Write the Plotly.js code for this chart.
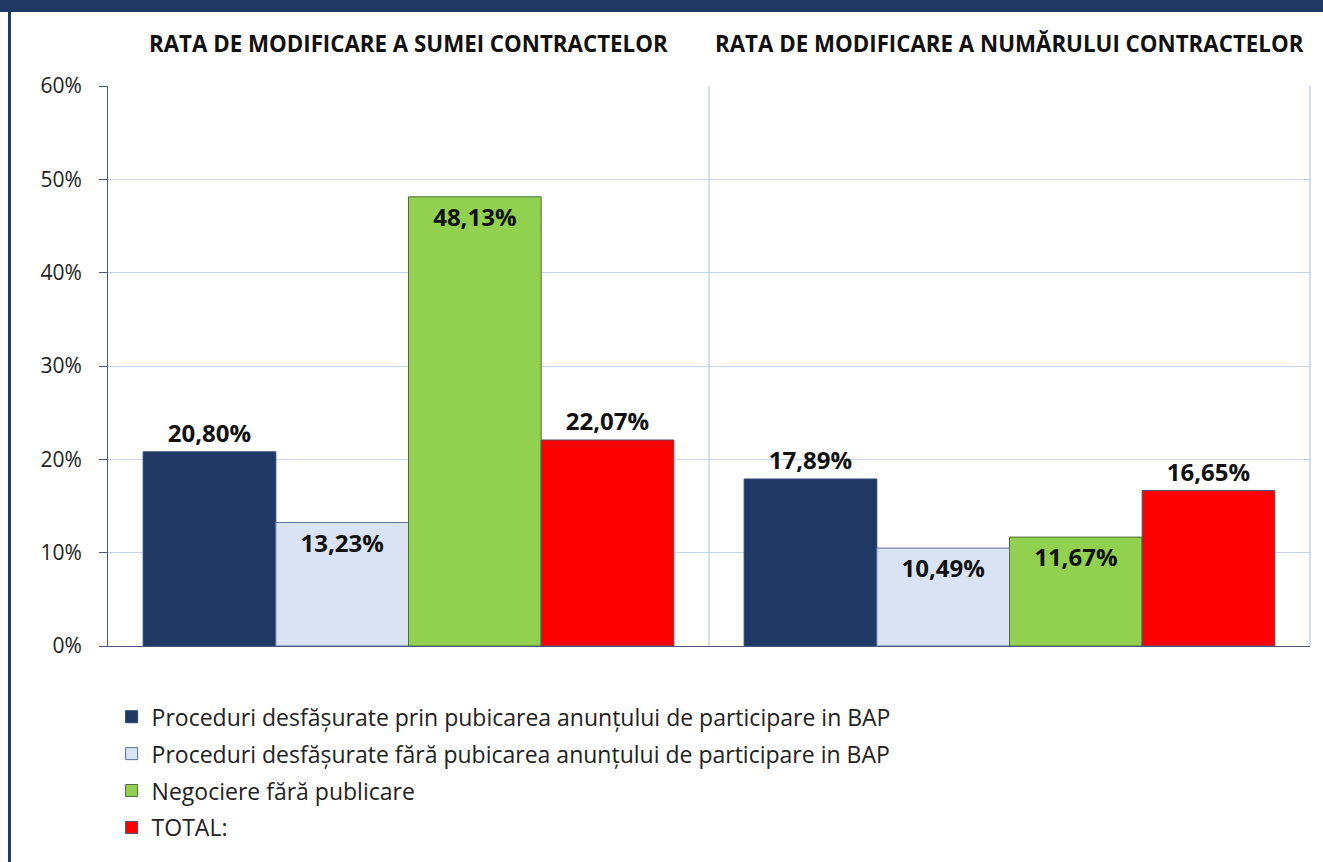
<!DOCTYPE html>
<html>
<head>
<meta charset="utf-8">
<script src="https://cdn.plot.ly/plotly-3.0.1.min.js"></script>
<style>
html,body{margin:0;padding:0;background:#fff;}
#wrap{position:relative;width:1323px;height:862px;overflow:hidden;}
#chart{position:absolute;left:0;top:0;width:1323px;height:862px;}
#topbar{position:absolute;left:0;top:0;width:1323px;height:12px;background:#1f3864;z-index:5;}
#leftbar{position:absolute;left:8px;top:0;width:3px;height:862px;background:#1f3864;z-index:5;}
</style>
</head>
<body>
<div id="wrap">
<div id="chart"></div>
<div id="topbar"></div>
<div id="leftbar"></div>
</div>
<script>
const categories = ["RATA DE MODIFICARE A SUMEI CONTRACTELOR", "RATA DE MODIFICARE A NUMĂRULUI CONTRACTELOR"];
const seriesNames = [
  "Proceduri desfășurate prin pubicarea anunțului de participare in BAP",
  "Proceduri desfășurate fără pubicarea anunțului de participare in BAP",
  "Negociere fără publicare",
  "TOTAL:"
];
const valuesBAP = [20.80, 17.89];
const valuesFaraBAP = [13.23, 10.49];
const valuesNegociere = [48.13, 11.67];
const valuesTotal = [22.07, 16.65];
const yTicks = [0, 10, 20, 30, 40, 50, 60];

const seriesValues = [valuesBAP, valuesFaraBAP, valuesNegociere, valuesTotal];
const colors = ["#1f3864", "#dae3f3", "#92d050", "#ff0000"];
const outlines = ["#2c4470", "#5a7099", "#4f6e3a", "#4a4f66"];
const positions = ["outside", "inside", "inside", "outside"];

const FONT = "Open Sans, Liberation Sans, sans-serif";

const traces = seriesValues.map((vals, i) => ({
  type: "bar",
  name: seriesNames[i],
  legendgroup: "g" + i,
  x: categories,
  y: vals,
  marker: {color: colors[i], line: {color: outlines[i], width: 1}},
  texttemplate: "%{y:.2f}%",
  textposition: positions[i],
  insidetextanchor: "end",
  textangle: 0,
  cliponaxis: false,
  textfont: {family: FONT, size: 24, color: "#111111", weight: "bold"},
  insidetextfont: {family: FONT, size: 24, color: "#111111", weight: "bold"},
  outsidetextfont: {family: FONT, size: 24, color: "#111111", weight: "bold"},
  hoverinfo: "none"
}));

const annotations = categories.map(c => ({
  x: c, xref: "x", y: 1, yref: "paper",
  yanchor: "bottom", yshift: 25,
  text: "<b>" + c + "</b>",
  showarrow: false,
  font: {family: FONT, size: 22.3, color: "#111111"}
}));

const layout = {
  width: 1323, height: 862,
  margin: {l: 108, r: 13, t: 86, b: 216},
  paper_bgcolor: "#ffffff",
  plot_bgcolor: "#ffffff",
  separators: ",.",
  barmode: "group",
  bargap: 0.117,
  bargroupgap: 0,
  showlegend: true,
  legend: {
    x: 0.003, xanchor: "left", y: -0.088, yanchor: "top",
    orientation: "v",
    font: {family: FONT, size: 23, color: "#222222"},
    traceorder: "grouped",
    tracegroupgap: 4,
    itemwidth: 30
  },
  xaxis: {
    type: "category",
    showticklabels: false,
    showgrid: false,
    showline: true, linecolor: "#4a5a7a", linewidth: 1,
    ticks: "", fixedrange: true
  },
  yaxis: {
    range: [0, 60],
    tickvals: yTicks,
    ticktext: yTicks.map(t => t + "%"),
    showgrid: true, gridcolor: "#c5d4ec", gridwidth: 1,
    zeroline: false,
    showline: true, linecolor: "#4a5a7a", linewidth: 1,
    ticks: "outside", ticklen: 8, tickcolor: "#4a5a7a",
    tickfont: {family: FONT, size: 21, color: "#222222"},
    ticklabelstandoff: 13,
    fixedrange: true
  },
  shapes: [
    {type: "line", xref: "paper", yref: "paper", x0: 0.5, x1: 0.5, y0: 0, y1: 1, line: {color: "#c5d4ec", width: 1.5}, layer: "below"},
    {type: "line", xref: "paper", yref: "paper", x0: 1, x1: 1, y0: 0, y1: 1, line: {color: "#c5d4ec", width: 1.5}, layer: "below"}
  ],
  annotations: annotations
};

Plotly.newPlot("chart", traces, layout, {displayModeBar: false, staticPlot: true});
</script>
</body>
</html>
